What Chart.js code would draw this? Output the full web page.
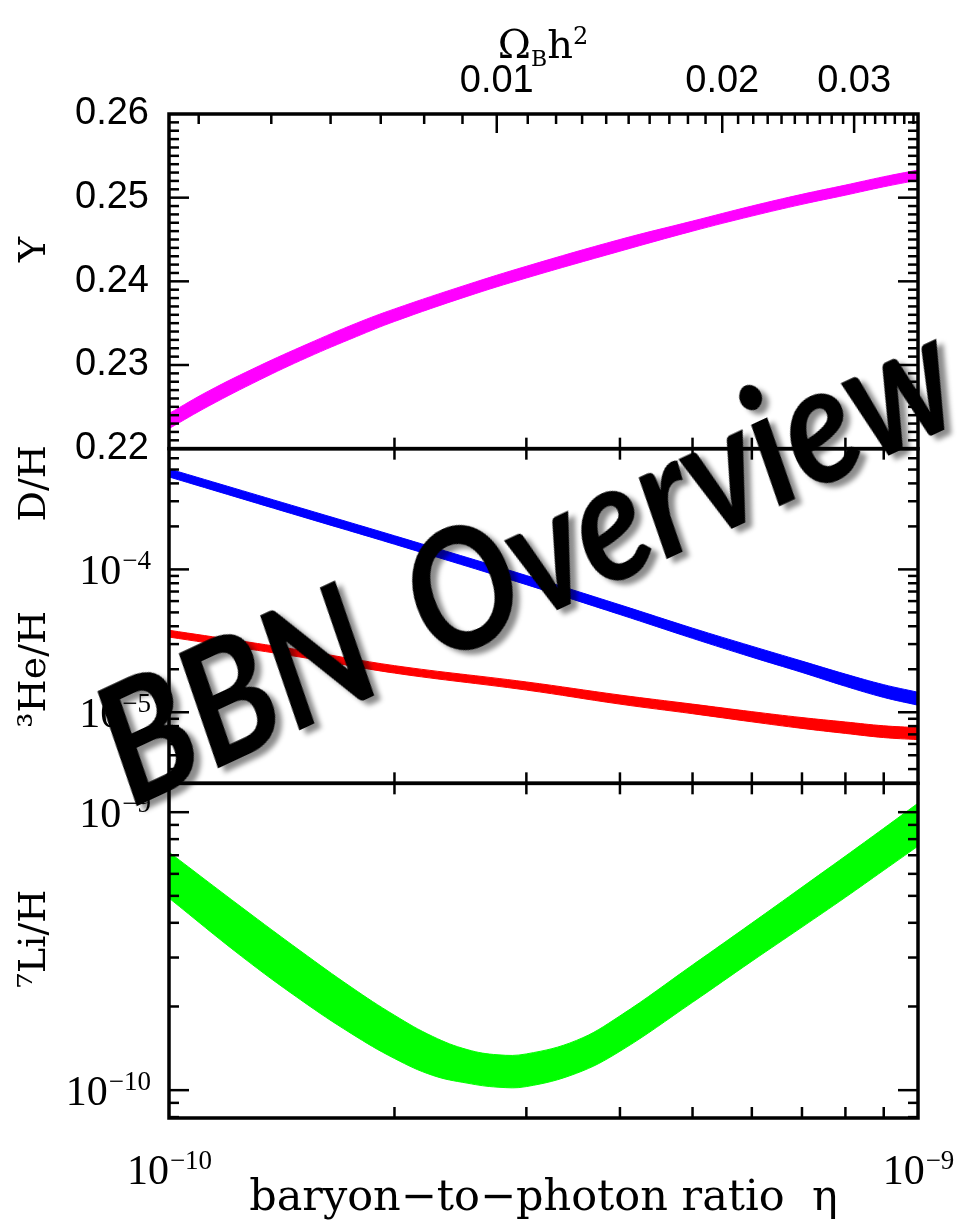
<!DOCTYPE html>
<html>
<head>
<meta charset="utf-8">
<script src="https://cdn.jsdelivr.net/npm/chart.js@4.4.1/dist/chart.umd.min.js"></script>
<style>
  html, body { margin: 0; padding: 0; background: #fff; }
  #wrap { position: relative; width: 963px; height: 1227px; overflow: hidden; }
  #chart { position: absolute; left: 0; top: 0; }
  .omega { position: absolute; left: 543px; top: 24px; transform: translateX(-50%);
           font-family: "DejaVu Serif", serif; font-size: 40px; line-height: 1; white-space: nowrap; }
  .omega sub { font-size: 22px; vertical-align: -8px; }
  .omega sup { font-size: 24px; vertical-align: 14px; }
  .stamp { position: absolute; left: 524px; top: 555px;
           transform: translate(-50%, -50%) rotate(-25deg) scaleX(0.88);
           font-family: Lato, sans-serif; font-style: italic; font-weight: 700; font-size: 166px;
           word-spacing: 24px; line-height: 1; white-space: nowrap; color: #000;
           text-shadow: 5px 7px 6px rgba(0,0,0,0.45); }
</style>
</head>
<body>
<div id="wrap">
  <canvas id="chart" width="963" height="1227"></canvas>
  <div class="omega">&Omega;<sub>B</sub>h<sup>2</sup></div>
  <div class="stamp">BBN Overview</div>
</div>
<script>
// helium mass fraction band
const etaY = [1e-10, 1.13e-10, 1.32e-10, 1.53e-10, 1.78e-10, 2e-10, 2.5e-10, 3e-10, 4e-10, 5e-10, 6e-10, 7e-10, 8e-10, 9e-10, 1e-9];
const heLo = [0.2224, 0.2251, 0.2282, 0.2309, 0.2334, 0.2352, 0.2382, 0.2404, 0.2436, 0.2460, 0.2478, 0.2492, 0.2503, 0.2513, 0.2521];
const heHi = [0.2242, 0.2269, 0.2299, 0.2325, 0.2350, 0.2367, 0.2396, 0.2418, 0.2450, 0.2472, 0.2490, 0.2504, 0.2515, 0.2525, 0.2533];

// D/H and 3He/H bands
const etaD = [1e-10, 1.5e-10, 2e-10, 3e-10, 4e-10, 5e-10, 6e-10, 7e-10, 8e-10, 9e-10, 1e-9];
const dLo = [4.44e-4, 2.35e-4, 1.50e-4, 7.82e-5, 4.83e-5, 3.29e-5, 2.43e-5, 1.90e-5, 1.52e-5, 1.27e-5, 1.12e-5];
const dHi = [5.05e-4, 2.69e-4, 1.72e-4, 9.06e-5, 5.65e-5, 3.88e-5, 2.90e-5, 2.28e-5, 1.85e-5, 1.56e-5, 1.38e-5];
const he3Lo = [3.36e-5, 2.43e-5, 1.88e-5, 1.43e-5, 1.14e-5, 9.77e-6, 8.57e-6, 7.71e-6, 7.11e-6, 6.65e-6, 6.43e-6];
const he3Hi = [3.75e-5, 2.72e-5, 2.12e-5, 1.63e-5, 1.32e-5, 1.14e-5, 1.01e-5, 9.18e-6, 8.55e-6, 8.04e-6, 7.80e-6];

// 7Li/H band
const etaLi = [1e-10, 1.25e-10, 1.5e-10, 1.75e-10, 2e-10, 2.25e-10, 2.5e-10, 2.75e-10, 3e-10, 3.5e-10, 4e-10, 5e-10, 6e-10, 7e-10, 8e-10, 9e-10, 1e-9];
const liLo = [4.91e-10, 3.03e-10, 2.11e-10, 1.60e-10, 1.30e-10, 1.13e-10, 1.06e-10, 1.025e-10, 1.03e-10, 1.15e-10, 1.38e-10, 2.07e-10, 2.91e-10, 3.86e-10, 4.94e-10, 6.18e-10, 7.55e-10];
const liHi = [7.18e-10, 4.55e-10, 3.16e-10, 2.35e-10, 1.86e-10, 1.56e-10, 1.40e-10, 1.34e-10, 1.35e-10, 1.51e-10, 1.85e-10, 2.82e-10, 3.99e-10, 5.37e-10, 6.95e-10, 8.75e-10, 1.077e-9];

// tick labels
const yTicks = [0.22, 0.23, 0.24, 0.25, 0.26];
const dTicks = [1e-5, 1e-4];
const liTicks = [1e-10, 1e-9];
const etaTicks = [1e-10, 1e-9];
const omegaTicks = [0.01, 0.02, 0.03];

// axis names: [text, scale, value where the name is centred]
const sideTitles = [
  ['Y', 'yY', 0.2438],
  ['D/H', 'yD', 4.0e-4],
  ['\u00B3He/H', 'yD', 2.0e-5],
  ['\u2077Li/H', 'yLi', 3.5e-10]
];

const ETA_PER_OMEGA = 273.9e-10; // eta = 273.9e-10 * Omega_B h^2

const serif = '"Liberation Serif", "DejaVu Serif", serif';
const sans = '"Liberation Sans", Arial, sans-serif';

function band(xs, lo, hi, color, axis) {
  const common = { yAxisID: axis, borderColor: color, backgroundColor: color, borderWidth: 1,
                   pointRadius: 0, tension: 0.4 };
  return [
    { ...common, data: xs.map((x, i) => ({ x, y: lo[i] })), fill: false },
    { ...common, data: xs.map((x, i) => ({ x, y: hi[i] })), fill: '-1' }
  ];
}

function fixWidth(w) {
  return s => { s.width = w; s.paddingTop = 0; s.paddingBottom = 0; };
}
function fixHeight(h) {
  return s => { s.height = h; s.paddingLeft = 0; s.paddingRight = 0; };
}

// inward ticks on all panel edges plus the frame
const frameTicks = {
  id: 'frameTicks',
  afterDatasetsDraw(chart) {
    const { ctx, chartArea } = chart;
    const { left, right } = chartArea;
    const sx = chart.scales.x, so = chart.scales.omega;
    const panels = [chart.scales.yY, chart.scales.yD, chart.scales.yLi];
    const line = (x1, y1, x2, y2) => { ctx.beginPath(); ctx.moveTo(x1, y1); ctx.lineTo(x2, y2); ctx.stroke(); };
    ctx.save();
    ctx.strokeStyle = '#000';
    ctx.lineWidth = 2.5;

    // eta minor ticks on panel edges
    for (let k = 2; k <= 9; k++) {
      const px = sx.getPixelForValue(k * 1e-10);
      panels.forEach((s, i) => {
        line(px, s.bottom, px, s.bottom - 11);
        if (i > 0) line(px, s.top, px, s.top + 11);
      });
    }
    // Omega ticks along the top
    for (let k = 4; k <= 36; k++) {
      const px = so.getPixelForValue(k / 1000);
      const len = k % 10 === 0 ? 19 : 10;
      line(px, chartArea.top, px, chartArea.top + len);
    }
    // Y panel: linear ticks
    const sy = chart.scales.yY;
    for (let k = 221; k <= 259; k++) {
      const py = sy.getPixelForValue(k / 1000);
      const len = k % 10 === 0 ? 20 : 10;
      line(left, py, left + len, py);
      line(right, py, right - len, py);
    }
    // log panels
    [chart.scales.yD, chart.scales.yLi].forEach(s => {
      const e0 = Math.floor(Math.log10(s.min)), e1 = Math.ceil(Math.log10(s.max));
      for (let e = e0; e <= e1; e++) {
        for (let k = 1; k <= 9; k++) {
          const v = k * Math.pow(10, e);
          if (v < s.min || v > s.max) continue;
          const py = s.getPixelForValue(v);
          const len = k === 1 ? 20 : 10;
          line(left, py, left + len, py);
          line(right, py, right - len, py);
        }
      }
    });
    // frame
    ctx.lineWidth = 3.5;
    panels.forEach(s => ctx.strokeRect(left, s.top, right - left, s.bottom - s.top));
    ctx.restore();
  }
};

// 10^n labels with a real raised exponent
function drawPow(ctx, v, x, y, align) {
  const exp = '\u2212' + String(-Math.round(Math.log10(v)));
  ctx.font = '42px ' + serif;
  const wBase = ctx.measureText('10').width;
  ctx.font = '27px ' + serif;
  const wExp = ctx.measureText(exp).width;
  const x0 = align === 'right' ? x - wBase - wExp : x - (wBase + wExp) / 2;
  ctx.textAlign = 'left';
  ctx.textBaseline = 'alphabetic';
  ctx.font = '42px ' + serif;
  ctx.fillText('10', x0, y);
  ctx.font = '27px ' + serif;
  ctx.fillText(exp, x0 + wBase + 1, y - 15);
}

const powLabels = {
  id: 'powLabels',
  afterDraw(chart) {
    const { ctx } = chart;
    ctx.save();
    ctx.fillStyle = '#000';
    ['yD', 'yLi'].forEach(id => {
      const s = chart.scales[id];
      s.ticks.forEach(t => drawPow(ctx, t.value, s.right - 19, s.getPixelForValue(t.value) + 15, 'right'));
    });
    const sx = chart.scales.x;
    sx.ticks.forEach(t => drawPow(ctx, t.value, sx.getPixelForValue(t.value), sx.top + 66, 'center'));
    ctx.restore();
  }
};

// rotated axis names on the left
const axisNames = {
  id: 'axisNames',
  afterDraw(chart) {
    const { ctx } = chart;
    ctx.save();
    ctx.fillStyle = '#000';
    ctx.font = '38px "DejaVu Serif", serif';
    ctx.textAlign = 'center';
    ctx.textBaseline = 'middle';
    sideTitles.forEach(([t, id, v]) => {
      ctx.save();
      ctx.translate(35, chart.scales[id].getPixelForValue(v));
      ctx.rotate(-Math.PI / 2);
      ctx.fillText(t, 0, 0);
      ctx.restore();
    });
    ctx.restore();
  }
};

const tickFont = { family: sans, size: 38 };

new Chart(document.getElementById('chart'), {
  type: 'line',
  data: {
    datasets: [
      ...band(etaY, heLo, heHi, '#ff00ff', 'yY'),
      ...band(etaD, dLo, dHi, '#0000ff', 'yD'),
      ...band(etaD, he3Lo, he3Hi, '#ff0000', 'yD'),
      ...band(etaLi, liLo, liHi, '#00ff00', 'yLi')
    ]
  },
  options: {
    responsive: false,
    animation: false,
    events: [],
    layout: { padding: { left: 0, right: 45, top: 0, bottom: 0 } },
    plugins: { legend: { display: false }, tooltip: { enabled: false } },
    scales: {
      x: {
        type: 'logarithmic', position: 'bottom', min: 1e-10, max: 1e-9,
        grid: { display: false, drawTicks: false }, border: { display: false },
        afterBuildTicks: s => { s.ticks = etaTicks.map(value => ({ value })); },
        afterFit: fixHeight(109),
        ticks: { display: false },
        title: { display: true, text: 'baryon\u2212to\u2212photon ratio  \u03B7', color: '#000',
                 font: { family: '"DejaVu Serif", serif', size: 43 }, padding: { top: 0, bottom: 2 } }
      },
      omega: {
        type: 'logarithmic', position: 'top',
        min: 1e-10 / ETA_PER_OMEGA, max: 1e-9 / ETA_PER_OMEGA,
        grid: { display: false, drawTicks: false }, border: { display: false },
        afterBuildTicks: s => { s.ticks = omegaTicks.map(value => ({ value })); },
        afterFit: fixHeight(114),
        ticks: { color: '#000', font: tickFont, padding: 10, maxRotation: 0, autoSkip: false, callback: v => v.toFixed(2) }
      },
      yLi: {
        type: 'logarithmic', position: 'left', stack: 'panels', stackWeight: 1,
        min: 7.94e-11, max: 1.27e-9,
        grid: { display: false, drawTicks: false }, border: { display: false },
        afterBuildTicks: s => { s.ticks = liTicks.map(value => ({ value })); },
        afterFit: fixWidth(169),
        ticks: { display: false }
      },
      yD: {
        type: 'logarithmic', position: 'left', stack: 'panels', stackWeight: 1,
        min: 3.18e-6, max: 7e-4,
        grid: { display: false, drawTicks: false }, border: { display: false },
        afterBuildTicks: s => { s.ticks = dTicks.map(value => ({ value })); },
        afterFit: fixWidth(169),
        ticks: { display: false }
      },
      yY: {
        type: 'linear', position: 'left', stack: 'panels', stackWeight: 1,
        min: 0.22, max: 0.26,
        grid: { display: false, drawTicks: false }, border: { display: false },
        afterBuildTicks: s => { s.ticks = yTicks.map(value => ({ value })); },
        afterFit: fixWidth(169),
        ticks: { color: '#000', font: tickFont, padding: 20, autoSkip: false, callback: v => v.toFixed(2) }
      }
    }
  },
  plugins: [frameTicks, powLabels, axisNames]
});
</script>
</body>
</html>
